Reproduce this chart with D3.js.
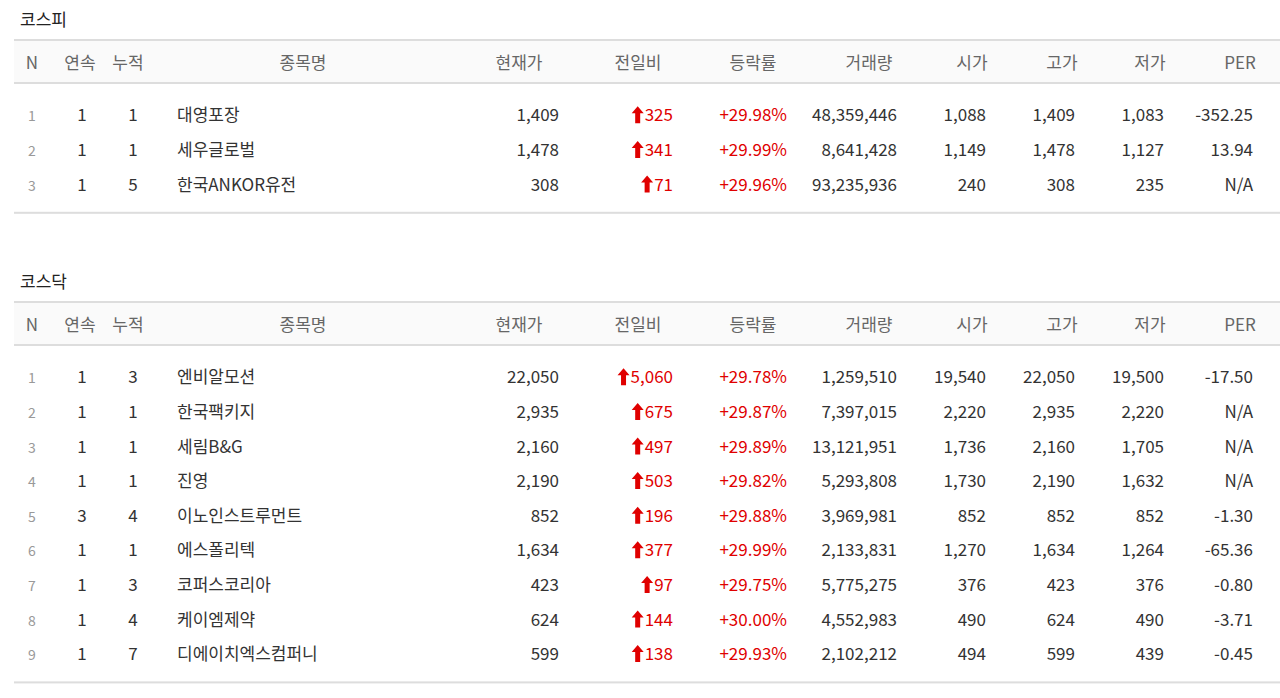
<!DOCTYPE html>
<html><head><meta charset="utf-8">
<script src="https://cdn.jsdelivr.net/npm/d3@7"></script>
<style>body{margin:0;background:#fff}svg{display:block}text{font-family:"Noto Sans CJK KR","Noto Sans",sans-serif}</style>
</head><body><svg id="c" width="1280" height="698"></svg>
<script>
// column headers
var headers = ["N","연속","누적","종목명","현재가","전일비","등락률","거래량","시가","고가","저가","PER"];

// 코스피
var kospiNames = ["대영포장","세우글로벌","한국ANKOR유전"];
var kospiRows = [
  [1,1,1,1409,325,29.98,48359446,1088,1409,1083,"-352.25"],
  [2,1,1,1478,341,29.99,8641428,1149,1478,1127,"13.94"],
  [3,1,5,308,71,29.96,93235936,240,308,235,"N/A"]
];

// 코스닥
var kosdaqNames = ["엔비알모션","한국팩키지","세림B&G","진영","이노인스트루먼트","에스폴리텍","코퍼스코리아","케이엠제약","디에이치엑스컴퍼니"];
var kosdaqRows = [
  [1,1,3,22050,5060,29.78,1259510,19540,22050,19500,"-17.50"],
  [2,1,1,2935,675,29.87,7397015,2220,2935,2220,"N/A"],
  [3,1,1,2160,497,29.89,13121951,1736,2160,1705,"N/A"],
  [4,1,1,2190,503,29.82,5293808,1730,2190,1632,"N/A"],
  [5,3,4,852,196,29.88,3969981,852,852,852,"-1.30"],
  [6,1,1,1634,377,29.99,2133831,1270,1634,1264,"-65.36"],
  [7,1,3,423,97,29.75,5775275,376,423,376,"-0.80"],
  [8,1,4,624,144,30.00,4552983,490,624,490,"-3.71"],
  [9,1,7,599,138,29.93,2102212,494,599,439,"-0.45"]
];

var svg = d3.select("#c");
var fmt = d3.format(",");
// header x (anchor middle) and value x (anchor)
var hx = [32,80,128,303,519,638,753,869,972,1062,1150,1240];
var vx = [32,82,133,177,559,673,787,897,986,1075,1164,1253];
var va = ["middle","middle","middle","start","end","end","end","end","end","end","end","end"];

function table(top, title, names, rows){
  var g = svg.append("g");
  g.append("text").attr("x",20).attr("y",top-13).attr("font-size",17).attr("fill","#222").text(title);
  g.append("rect").attr("x",14).attr("y",top).attr("width",1266).attr("height",44).attr("fill","#fafafa");
  g.append("rect").attr("x",14).attr("y",top).attr("width",1266).attr("height",2).attr("fill","#ddd");
  g.append("rect").attr("x",14).attr("y",top+43).attr("width",1266).attr("height",2).attr("fill","#ddd");
  g.selectAll(".h").data(headers).join("text")
    .attr("x",(d,i)=>hx[i]).attr("y",top+30).attr("text-anchor","middle")
    .attr("font-size",17).attr("fill","#666").text(d=>d);
  var y = d3.scaleBand().domain(d3.range(rows.length)).range([top+59, top+59+rows.length*34.6]);
  rows.forEach(function(r,ri){
    var cy = y(ri)+y.bandwidth()/2+6;
    var cells = [r[0],r[1],r[2],names[ri],fmt(r[3]),fmt(r[4]),"+"+r[5].toFixed(2)+"%",fmt(r[6]),fmt(r[7]),fmt(r[8]),fmt(r[9]),r[10]];
    cells.forEach(function(c,ci){
      var t = g.append("text").attr("x",vx[ci]).attr("y",cy).attr("text-anchor",va[ci])
        .attr("font-size",ci==0?14:17).attr("fill",ci==0?"#999":(ci==5||ci==6)?"#e00000":"#333").text(c);
      if(ci==5){
        var w = t.node().getComputedTextLength();
        var ax = vx[ci]-w-7;
        g.append("path").attr("d","M"+ax+","+(cy-15)+"l6,7h-3.5v10h-5v-10h-3.5z").attr("fill","#e00000");
      }
    });
  });
  g.append("rect").attr("x",14).attr("y",top+59+rows.length*34.6+10).attr("width",1266).attr("height",2).attr("fill","#ddd");
}
table(39,"코스피",kospiNames,kospiRows);
table(301,"코스닥",kosdaqNames,kosdaqRows);
</script></body></html>
